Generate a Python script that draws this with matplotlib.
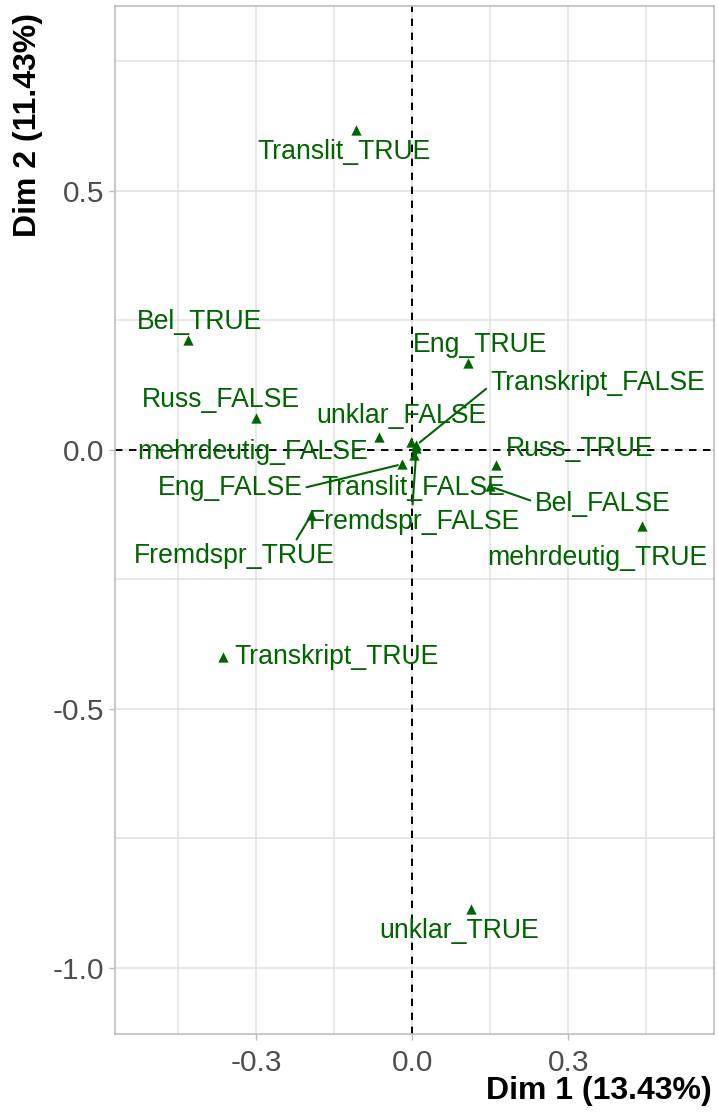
import matplotlib
matplotlib.use("Agg")
import matplotlib.pyplot as plt
from matplotlib.ticker import FixedLocator

# MCA variable categories: coordinates on the first two dimensions
categories = [
    "Translit_TRUE", "Bel_TRUE", "Eng_TRUE", "Russ_FALSE", "mehrdeutig_FALSE",
    "unklar_FALSE", "Transkript_FALSE", "Fremdspr_FALSE", "Translit_FALSE",
    "Eng_FALSE", "Russ_TRUE", "Bel_FALSE", "Fremdspr_TRUE", "mehrdeutig_TRUE",
    "Transkript_TRUE", "unklar_TRUE",
]
dim1 = [-0.108, -0.432, 0.108, -0.301, -0.064, -0.003, 0.008, 0.008, 0.004,
        -0.020, 0.160, 0.150, -0.195, 0.442, -0.364, 0.112]
dim2 = [0.617, 0.212, 0.167, 0.062, 0.025, 0.014, 0.009, 0.004, -0.010,
        -0.028, -0.029, -0.071, -0.127, -0.147, -0.400, -0.887]

x_title = "Dim 1 (13.43%)"
y_title = "Dim 2 (11.43%)"
x_ticks = [-0.3, 0.0, 0.3]
x_tick_labels = ["-0.3", "0.0", "0.3"]
y_ticks = [-1.0, -0.5, 0.0, 0.5]
y_tick_labels = ["-1.0", "-0.5", "0.0", "0.5"]

# label placement (offset from point, pixels)
label_offsets = {
    "Translit_TRUE": (-12, -22), "Bel_TRUE": (12, 18), "Eng_TRUE": (12, 18),
    "Russ_FALSE": (-35, 18), "mehrdeutig_FALSE": (-126, -15),
    "unklar_FALSE": (-9, 26), "Transkript_FALSE": (181, 62),
    "Fremdspr_FALSE": (-2, -74), "Translit_FALSE": (-1, -33),
    "Eng_FALSE": (-172, -24), "Russ_TRUE": (84, 16), "Bel_FALSE": (112, -18),
    "Fremdspr_TRUE": (-77, -41), "mehrdeutig_TRUE": (-45, -32),
    "Transkript_TRUE": (114, 0), "unklar_TRUE": (-11, -22),
}
# leader segments: where on the label box the segment starts
segment_anchor = {
    "Transkript_FALSE": (0.0, 0.4),
    "Fremdspr_FALSE": (0.49, 1.0),
    "Eng_FALSE": (1.0, 0.5),
    "Bel_FALSE": (0.0, 0.6),
    "Fremdspr_TRUE": (0.8, 1.0),
}

GREEN = "#006400"
plt.rcParams["font.family"] = ["Liberation Sans", "DejaVu Sans"]

W, H, DPI = 718, 1115, 100
fig = plt.figure(figsize=(W / DPI, H / DPI), dpi=DPI)
ax = fig.add_axes([115.3 / W, 1 - 1034 / H, (714 - 115.3) / W, (1034 - 6) / H])

ax.set_xlim(-0.571, 0.580)
ax.set_ylim(-1.128, 0.8566)

# grid
ax.xaxis.set_major_locator(FixedLocator(x_ticks))
ax.yaxis.set_major_locator(FixedLocator(y_ticks))
ax.xaxis.set_minor_locator(FixedLocator([-0.45, -0.15, 0.15, 0.45]))
ax.yaxis.set_minor_locator(FixedLocator([-0.75, -0.25, 0.25, 0.75]))
ax.grid(True, which="major", color="#E0E0E0", lw=1.1, zorder=0)
ax.grid(True, which="minor", color="#E0E0E0", lw=1.1, zorder=0)
ax.set_axisbelow(True)
ax.set_xticklabels(x_tick_labels)
ax.set_yticklabels(y_tick_labels)
ax.tick_params(which="major", length=4, width=1.0, color="#BDBDBD",
               labelcolor="#4D4D4D", labelsize=21.5, pad=4)
ax.tick_params(axis="x", which="major", pad=7)
ax.tick_params(which="minor", length=0)
for s in ax.spines.values():
    s.set_color("#BDBDBD")
    s.set_linewidth(1.2)

# reference lines through the origin
ax.axhline(0, color="black", lw=1.4, ls=(0, (3.8, 3.4)), zorder=1)
ax.axvline(0, color="black", lw=1.4, ls=(0, (3.8, 3.4)), zorder=1)

ax.scatter(dim1, dim2, marker="^", s=55, color=GREEN, lw=0, zorder=3)

for name, x, y in zip(categories, dim1, dim2):
    dx, dy = label_offsets[name]
    kw = {}
    if name in segment_anchor:
        kw["arrowprops"] = dict(arrowstyle="-", color=GREEN, lw=1.5,
                                shrinkA=1, shrinkB=3,
                                relpos=segment_anchor[name])
    ax.annotate(name, xy=(x, y), xytext=(dx, dy), textcoords="offset pixels",
                ha="center", va="center", color=GREEN, fontsize=19.2,
                zorder=4, **kw)

fig.text(712 / W, 1 - 1091 / H, x_title, ha="right", va="center",
         fontsize=23, fontweight="bold")
fig.text(28 / W, 1 - 13 / H, y_title, ha="center", va="top", rotation=90,
         fontsize=23, fontweight="bold")

fig.savefig("out.png", dpi=DPI)
